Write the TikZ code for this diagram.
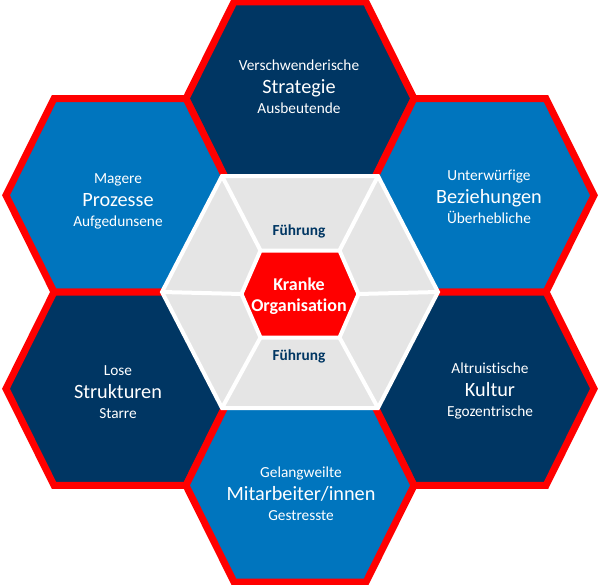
\documentclass[tikz,border=0pt]{standalone}
\usepackage{fontspec}
\setmainfont[Ligatures={NoCommon}]{Carlito}
\definecolor{hexnavy}{RGB}{0,54,99}
\definecolor{hexblue}{RGB}{0,117,190}
\definecolor{hexred}{RGB}{255,0,0}
\definecolor{hexgray}{RGB}{229,229,229}
\tikzset{
  outerhex/.style={draw=hexred, line width=5.25pt},
  innerhex/.style={draw=white, fill=hexgray, line width=3pt},
  spoke/.style={draw=white, line width=3pt},
  corehex/.style={draw=white, fill=hexred, line width=3pt},
  smalltext/.style={anchor=base, inner sep=0pt, text=white, font=\fontsize{11.5}{13}\selectfont},
  maintext/.style={anchor=base, inner sep=0pt, text=white, font=\fontsize{15.2}{18}\selectfont},
  leadtext/.style={anchor=base, inner sep=0pt, text=hexnavy, font=\fontsize{11.5}{13}\selectfont\bfseries},
  coretext/.style={anchor=base, inner sep=0pt, text=white, font=\fontsize{13.5}{16}\selectfont\bfseries}
}
\begin{document}
\begin{tikzpicture}[x=0.75pt,y=0.75pt,yscale=-1,xscale=1]
    \useasboundingbox (0,0) rectangle (600,585);
    \foreach \cx/\cy/\col in {300/98.6/hexnavy, 120/195.3/hexblue, 480/195.3/hexblue, 120/388.7/hexnavy, 480/388.7/hexnavy, 300/485.4/hexblue}
        \draw[outerhex, fill=\col] (\cx-114,\cy) -- ++(48,-96.7) -- ++(132,0) -- ++(48,96.7) -- ++(-48,96.7) -- ++(-132,0) -- cycle;
    \coordinate (g1) at (162,292);
    \coordinate (g2) at (222,176);
    \coordinate (g3) at (378,176);
    \coordinate (g4) at (438,292);
    \coordinate (g5) at (378,408);
    \coordinate (g6) at (222,408);
    \coordinate (r1) at (241.5,294);
    \coordinate (r2) at (260.5,250.5);
    \coordinate (r3) at (339.5,250.5);
    \coordinate (r4) at (358.5,294);
    \coordinate (r5) at (339.5,337.5);
    \coordinate (r6) at (260.5,337.5);
    \draw[innerhex] (g1) -- (g2) -- (g3) -- (g4) -- (g5) -- (g6) -- cycle;
    \foreach \k in {1,...,6}
        \draw[spoke] (g\k) -- (r\k);
    \draw[corehex] (r1) -- (r2) -- (r3) -- (r4) -- (r5) -- (r6) -- cycle;
    \foreach \tx/\ty/\upper/\main/\lower [count=\i] in {299/93.3/Verschwenderische/Strategie/Ausbeutende, 118/206/Magere/Prozesse/Aufgedunsene, 489/203.5/Unterwürfige/Beziehungen/Überhebliche, 118/398/Lose/Strukturen/Starre, 490/396.5/Altruistische/Kultur/Egozentrische, 301/500.5/Gelangweilte/{Mitarbeiter/innen}/Gestresste}
    {
        \node[smalltext] (upper\i) at (\tx,\ty-22.6) {\upper};
        \node[maintext] (main\i) at (\tx,\ty) {\main};
        \node[smalltext] (lower\i) at (\tx,\ty+20) {\lower};
    }
    \node[leadtext] (leadtop) at (299,235) {Führung};
    \node[leadtext] (leadbottom) at (299,360.7) {Führung};
    \node[coretext] (coreup) at (299,290) {Kranke};
    \node[coretext] (corelow) at (299,311.7) {Organisation};
\end{tikzpicture}
\end{document}
